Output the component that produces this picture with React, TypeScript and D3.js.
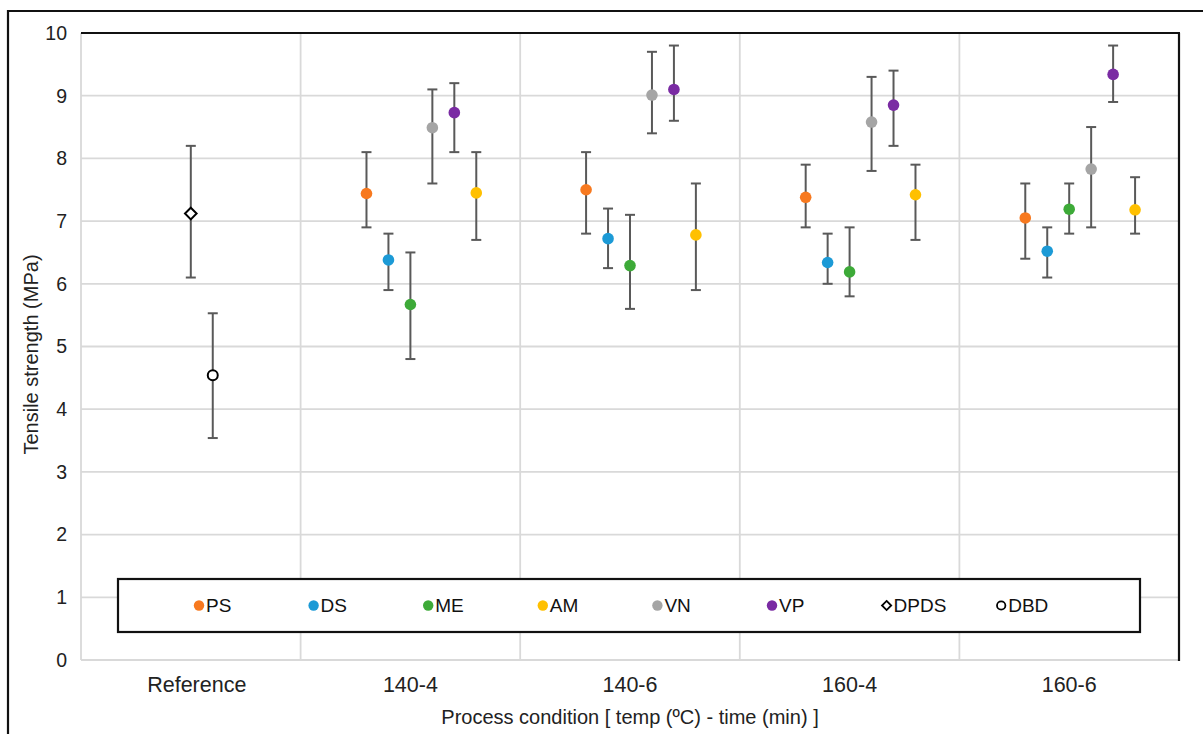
import React from "react";
import * as d3 from "d3";

// Process conditions along the x axis
const categories = ["Reference", "140-4", "140-6", "160-4", "160-6"];
const yTicks = [0, 1, 2, 3, 4, 5, 6, 7, 8, 9, 10];

// Tensile strength means (MPa) and error bar bounds per treatment
const psMean = [null, 7.44, 7.5, 7.38, 7.05];
const psLow = [null, 6.9, 6.8, 6.9, 6.4];
const psHigh = [null, 8.1, 8.1, 7.9, 7.6];

const dsMean = [null, 6.38, 6.72, 6.34, 6.52];
const dsLow = [null, 5.9, 6.25, 6.0, 6.1];
const dsHigh = [null, 6.8, 7.2, 6.8, 6.9];

const meMean = [null, 5.67, 6.29, 6.19, 7.19];
const meLow = [null, 4.8, 5.6, 5.8, 6.8];
const meHigh = [null, 6.5, 7.1, 6.9, 7.6];

const amMean = [null, 7.45, 6.78, 7.42, 7.18];
const amLow = [null, 6.7, 5.9, 6.7, 6.8];
const amHigh = [null, 8.1, 7.6, 7.9, 7.7];

const vnMean = [null, 8.49, 9.01, 8.58, 7.83];
const vnLow = [null, 7.6, 8.4, 7.8, 6.9];
const vnHigh = [null, 9.1, 9.7, 9.3, 8.5];

const vpMean = [null, 8.73, 9.1, 8.85, 9.34];
const vpLow = [null, 8.1, 8.6, 8.2, 8.9];
const vpHigh = [null, 9.2, 9.8, 9.4, 9.8];

const dpdsMean = [7.12, null, null, null, null];
const dpdsLow = [6.1, null, null, null, null];
const dpdsHigh = [8.2, null, null, null, null];

const dbdMean = [4.54, null, null, null, null];
const dbdLow = [3.54, null, null, null, null];
const dbdHigh = [5.53, null, null, null, null];

type Series = {
  name: string;
  color: string;
  marker: "dot" | "diamond" | "ring";
  slot: number;
  mean: (number | null)[];
  low: (number | null)[];
  high: (number | null)[];
};

const series: Series[] = [
  { name: "PS", color: "#F7791F", marker: "dot", slot: -2, mean: psMean, low: psLow, high: psHigh },
  { name: "DS", color: "#1C9AD6", marker: "dot", slot: -1, mean: dsMean, low: dsLow, high: dsHigh },
  { name: "ME", color: "#3DAA38", marker: "dot", slot: 0, mean: meMean, low: meLow, high: meHigh },
  { name: "AM", color: "#FFC000", marker: "dot", slot: 3, mean: amMean, low: amLow, high: amHigh },
  { name: "VN", color: "#A5A5A5", marker: "dot", slot: 1, mean: vnMean, low: vnLow, high: vnHigh },
  { name: "VP", color: "#7A2BA3", marker: "dot", slot: 2, mean: vpMean, low: vpLow, high: vpHigh },
  { name: "DPDS", color: "#000000", marker: "diamond", slot: 0, mean: dpdsMean, low: dpdsLow, high: dpdsHigh },
  { name: "DBD", color: "#000000", marker: "ring", slot: 1, mean: dbdMean, low: dbdLow, high: dbdHigh },
];

const W = 1203;
const H = 734;
const plot = { left: 81, right: 1179, top: 33, bottom: 660 };
const FONT = "'Liberation Sans', Arial, sans-serif";

const x = d3
  .scaleBand<string>()
  .domain(categories)
  .range([plot.left, plot.right])
  .paddingInner(0)
  .paddingOuter(0);
const y = d3.scaleLinear().domain([0, 10]).range([plot.bottom, plot.top]);
const slotStep = x.bandwidth() * 0.1;

function Marker({ s, cx, cy }: { s: Series; cx: number; cy: number }) {
  if (s.marker === "diamond") {
    const r = 5.8;
    return (
      <path
        d={`M${cx},${cy - r}L${cx + r},${cy}L${cx},${cy + r}L${cx - r},${cy}Z`}
        fill="#fff"
        stroke="#000"
        strokeWidth={2}
      />
    );
  }
  if (s.marker === "ring") {
    return <circle cx={cx} cy={cy} r={5} fill="#fff" stroke="#000" strokeWidth={2} />;
  }
  return <circle cx={cx} cy={cy} r={5.8} fill={s.color} />;
}

function LegendMarker({ s, cx, cy }: { s: Series; cx: number; cy: number }) {
  if (s.marker === "diamond") {
    const r = 4.6;
    return (
      <path
        d={`M${cx},${cy - r}L${cx + r},${cy}L${cx},${cy + r}L${cx - r},${cy}Z`}
        fill="#fff"
        stroke="#000"
        strokeWidth={1.8}
      />
    );
  }
  if (s.marker === "ring") {
    return <circle cx={cx} cy={cy} r={4.2} fill="#fff" stroke="#000" strokeWidth={1.8} />;
  }
  return <circle cx={cx} cy={cy} r={5.2} fill={s.color} />;
}

export default function App() {
  const gridColor = "#d9d9d9";
  const errColor = "#595959";
  const cap = 5;

  const legendBox = { x: 118, y: 579, w: 1022, h: 53 };
  const legendStart = 199;
  const legendStep = 114.6;

  return (
    <svg
      width={W}
      height={H}
      style={{ position: "absolute", left: 0, top: 0, background: "#fff" }}
      fontFamily={FONT}
    >
      <rect x={0} y={0} width={W} height={H} fill="#fff" />
      {/* outer frame */}
      <line x1={8} y1={11} x2={W} y2={11} stroke="#111" strokeWidth={2.2} />
      <line x1={8} y1={10} x2={8} y2={H} stroke="#111" strokeWidth={2.2} />

      {/* horizontal gridlines */}
      {yTicks.map((t) => (
        <line
          key={`h${t}`}
          x1={plot.left}
          x2={plot.right}
          y1={y(t)}
          y2={y(t)}
          stroke={gridColor}
          strokeWidth={1.8}
        />
      ))}
      {/* vertical gridlines at category boundaries */}
      {categories.map((c) => (
        <line
          key={`v${c}`}
          x1={x(c)!}
          x2={x(c)!}
          y1={plot.top}
          y2={plot.bottom}
          stroke={gridColor}
          strokeWidth={1.8}
        />
      ))}
      {/* plot area top and right border */}
      <line x1={plot.left} x2={plot.right + 1} y1={plot.top} y2={plot.top} stroke="#111" strokeWidth={2.2} />
      <line x1={plot.right} x2={plot.right} y1={plot.top} y2={plot.bottom + 1} stroke="#111" strokeWidth={2.2} />

      {/* y tick labels */}
      {yTicks.map((t) => (
        <text
          key={`yt${t}`}
          x={67}
          y={y(t)}
          dy="0.35em"
          textAnchor="end"
          fontSize={19.5}
          fill="#222"
        >
          {t}
        </text>
      ))}
      {/* category labels */}
      {categories.map((c) => (
        <text
          key={`xl${c}`}
          x={x(c)! + x.bandwidth() / 2 + (c === "Reference" ? 6 : 0)}
          y={692}
          textAnchor="middle"
          fontSize={21.5}
          fill="#222"
        >
          {c}
        </text>
      ))}
      {/* axis titles */}
      <text x={630} y={724} textAnchor="middle" fontSize={20}
        fill="#222">
        Process condition [ temp (ºC) - time (min) ]
      </text>
      <text
        transform={`translate(38,${(plot.top + plot.bottom) / 2 + 8}) rotate(-90)`}
        textAnchor="middle"
        fontSize={20}
        fill="#222"
      >
        Tensile strength (MPa)
      </text>

      {/* legend */}
      <rect
        x={legendBox.x}
        y={legendBox.y}
        width={legendBox.w}
        height={legendBox.h}
        fill="#fff"
        stroke="#111"
        strokeWidth={2.2}
      />
      {series.map((s, i) => {
        const cx = legendStart + i * legendStep;
        const cy = legendBox.y + legendBox.h / 2;
        return (
          <g key={`lg${s.name}`}>
            <LegendMarker s={s} cx={cx} cy={cy} />
            <text x={cx + 7} y={cy} dy="0.36em" fontSize={19} fill="#111">
              {s.name}
            </text>
          </g>
        );
      })}

      {/* error bars */}
      {series.map((s) =>
        categories.map((c, ci) => {
          const m = s.mean[ci];
          const lo = s.low[ci];
          const hi = s.high[ci];
          if (m == null || lo == null || hi == null) return null;
          const cx = x(c)! + x.bandwidth() / 2 + s.slot * slotStep;
          return (
            <g key={`e${s.name}${c}`} stroke={errColor} strokeWidth={2}>
              <line x1={cx} x2={cx} y1={y(lo)} y2={y(hi)} />
              <line x1={cx - cap} x2={cx + cap} y1={y(lo)} y2={y(lo)} />
              <line x1={cx - cap} x2={cx + cap} y1={y(hi)} y2={y(hi)} />
            </g>
          );
        })
      )}
      {/* markers */}
      {series.map((s) =>
        categories.map((c, ci) => {
          const m = s.mean[ci];
          if (m == null) return null;
          const cx = x(c)! + x.bandwidth() / 2 + s.slot * slotStep;
          return <Marker key={`m${s.name}${c}`} s={s} cx={cx} cy={y(m)} />;
        })
      )}
    </svg>
  );
}
